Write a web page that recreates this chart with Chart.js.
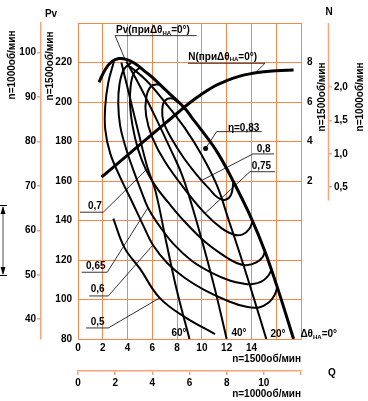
<!DOCTYPE html>
<html>
<head>
<meta charset="utf-8">
<title>Fan characteristic</title>
<script src="https://cdn.jsdelivr.net/npm/chart.js@4.4.1/dist/chart.umd.min.js"></script>
<style>
  html, body { margin: 0; padding: 0; background: #fff; }
</style>
</head>
<body>
<canvas id="fanChart" width="368" height="401"></canvas>
<script>
// pressure Pv(Q) at n=1500 rpm for guide vane angles
var qTheta0 = [1.7, 2.2, 2.7, 3.3, 3.9, 4.6, 5.4, 6.0, 7.0, 7.6, 8.6, 9.2, 10.0, 11.3, 12.6, 14.0, 15.1, 16.2, 17.4];
var pvTheta0 = [210, 216.5, 220.3, 222, 221.6, 219.5, 215.5, 212.5, 206.5, 203, 197, 192, 185.5, 174, 159, 141, 124.2, 104, 80];
var qTheta20 = [4.2, 5.5, 7.0, 8.6, 10.0, 11.2, 12.2, 13.2, 14.2, 15.2];
var pvTheta20 = [218, 211, 200, 187, 173, 158, 139.5, 120.5, 100.5, 80];
var qTheta40 = [3.9, 5.0, 6.2, 7.4, 8.4, 9.2, 10.0, 11.06, 12.0];
var pvTheta40 = [220.5, 208, 193, 177, 163, 147.5, 130, 105, 80];
var qTheta60 = [3.5, 4.2, 4.9, 5.6, 6.25, 7.16, 8.0, 9.0];
var pvTheta60 = [220, 202, 184, 167, 155, 128, 104, 80];

// efficiency contours
var qEta50 = [2.85, 3.77, 5.0, 6.59, 8.6, 11.06];
var pvEta50 = [141, 126, 115.6, 100.8, 91.2, 82.5];
var qEta60 = [2.9, 2.45, 2.2, 2.2, 2.6, 3.4, 4.4, 5.3, 6.05, 7.2, 8.6, 10.3, 12.2, 13.6, 14.6, 15.4, 15.85, 16.1];
var pvEta60 = [220.5, 210, 198, 186, 174, 162, 149, 137, 127.6, 118.5, 111, 104.5, 99, 96.3, 96, 98.5, 102, 106.5];
var qEta65 = [4.3, 3.7, 3.35, 3.25, 3.4, 3.85, 4.5, 5.1, 5.65, 6.6, 7.8, 9.2, 10.8, 12.3, 13.4, 14.1, 14.8, 15.35, 15.6];
var pvEta65 = [220, 216.5, 209, 199, 188, 177, 165, 155, 146.5, 137, 127.5, 119.5, 113.5, 109.5, 108, 107.8, 109, 112, 114.8];
var qEta70 = [5.0, 4.5, 4.25, 4.2, 4.4, 4.85, 5.5, 6.3, 7.3, 8.6, 10.2, 11.7, 12.8, 13.6, 14.4, 14.9, 15.1];
var pvEta70 = [217.5, 214.5, 208, 199, 188, 176, 165.5, 157, 149, 139.5, 129.5, 122.5, 118.5, 117.4, 118.8, 121.5, 124.5];
var qEta75 = [6.6, 5.9, 5.5, 5.5, 6.0, 7.0, 8.6, 10.25, 11.6, 12.6, 13.3, 13.8, 14.1];
var pvEta75 = [209, 208, 202, 193, 182, 170, 156, 143.6, 136, 132.8, 133, 135.5, 139.5];
var qEta80 = [8.1, 7.6, 7.0, 6.8, 6.9, 7.5, 8.5, 9.6, 10.6, 11.3, 11.9, 12.35, 12.55];
var pvEta80 = [199.7, 201.8, 200.5, 196, 190, 182, 172, 163, 156, 151.5, 150.5, 153, 159.5];
var qBest = [10.3];
var pvBest = [176.5];

// power N(Q) at n=1500 rpm, theta = 0
var qPower = [1.9, 3, 4, 5, 6, 7, 8, 9, 10, 11, 12, 13, 14, 15, 16, 17.4];
var nPower = [2.2, 2.78, 3.31, 3.84, 4.37, 4.9, 5.43, 5.95, 6.4, 6.8, 7.08, 7.3, 7.44, 7.53, 7.58, 7.62];

// ticks
var qGrid = [0, 2, 4, 6, 8, 10, 12, 14, 16, 18];
var qLabels1500 = [0, 2, 4, 6, 8, 10, 12, 14];
var qGrid1000 = [0, 2, 4, 6, 8, 10, 12];
var qLabels1000 = [0, 2, 4, 6, 8, 10];
var pvGrid = [80, 100, 120, 140, 160, 180, 200, 220, 240];
var pvLabels1500 = [80, 100, 120, 140, 160, 180, 200, 220];
var pvLabels1000 = [40, 50, 60, 70, 80, 90, 100];
var nLabels1500 = [2, 4, 6, 8];
var nLabels1000 = [0.5, 1, 1.5, 2];

var k = 1000 / 1500;
var orange = '#f3874c';
var peach = '#f6a47a';
var font = { family: '"Liberation Sans", Arial, sans-serif', size: 10, weight: 'bold' };
var cssFont = 'bold 10px "Liberation Sans", Arial, sans-serif';
var subFont = 'bold 6px "Liberation Sans", Arial, sans-serif';

function line(xs, ys, w, axis) {
  return {
    data: xs.map(function (x, i) { return { x: x, y: ys[i] }; }),
    showLine: true,
    borderColor: '#000',
    borderWidth: w,
    pointRadius: 0,
    tension: 0.4,
    yAxisID: axis || 'y'
  };
}

function setTicks(list) {
  return function (s) { s.ticks = list.map(function (v) { return { value: v }; }); };
}

// texts drawn with a subscript part: [text, isSub]
function rich(ctx, x, y, parts, align) {
  var w = 0;
  parts.forEach(function (p) { ctx.font = p[1] ? subFont : cssFont; w += ctx.measureText(p[0]).width; });
  var cx = align === 'center' ? x - w / 2 : (align === 'right' ? x - w : x);
  ctx.textAlign = 'left';
  ctx.textBaseline = 'middle';
  parts.forEach(function (p) {
    ctx.font = p[1] ? subFont : cssFont;
    ctx.fillText(p[0], cx, p[1] ? y + 3 : y);
    cx += ctx.measureText(p[0]).width;
  });
}

var callouts = [
  { t: [['Pv(приΔθ'], ['НА', 1], ['=0°)']], tx: 3.07, ty: 236.5, u0: 2.99, u1: 9.58, uy: 233.6, end: 0, to: [3.8, 221.6] },
  { t: [['N(приΔθ'], ['НА', 1], ['=0°)']], tx: 8.9, ty: 222.9, u0: 8.88, u1: 15.09, uy: 219.6, end: 1, to: [14.3, 7.47], axis: 'yN' },
  { t: [['η=0,83']], tx: 12.1, ty: 186.8, u0: 11.19, u1: 14.83, uy: 185, end: 0, to: [10.3, 176.5] },
  { t: [['0,8']], tx: 14.42, ty: 176.2, u0: 14.12, u1: 15.82, uy: 173.7, end: 0, to: [9.98, 160.3] },
  { t: [['0,75']], tx: 14.02, ty: 167.6, u0: 13.88, u1: 15.9, uy: 164.7, end: 0, to: [10.25, 143.6] },
  { t: [['0,7']], tx: 0.81, ty: 147.3, u0: 0.16, u1: 2.04, uy: 144.2, end: 1, to: [5.49, 165.5] },
  { t: [['0,65']], tx: 0.65, ty: 116.6, u0: 0.3, u1: 2.36, uy: 113.8, end: 1, to: [5.65, 146.5] },
  { t: [['0,6']], tx: 1.03, ty: 105.3, u0: 0.91, u1: 2.45, uy: 101.8, end: 1, to: [6.05, 127.6] },
  { t: [['0,5']], tx: 1.03, ty: 88.3, u0: 0.65, u1: 2.45, uy: 85.6, end: 1, to: [6.59, 100.8] }
];

var decor = {
  id: 'decor',
  afterDraw: function (chart) {
    var ctx = chart.ctx;
    var sx = chart.scales.x, sy = chart.scales.y, sn2 = chart.scales.yN2;
    function X(q) { return sx.getPixelForValue(q); }
    function Y(p) { return sy.getPixelForValue(p); }
    ctx.save();
    ctx.fillStyle = '#000';

    // n=1000 power axis line (upper part only)
    ctx.strokeStyle = peach;
    ctx.lineWidth = 1.5;
    ctx.beginPath();
    ctx.moveTo(sn2.left + 0.5, chart.chartArea.top);
    ctx.lineTo(sn2.left + 0.5, sn2.getPixelForValue(0.3));
    ctx.stroke();

    // callouts
    ctx.strokeStyle = '#000';
    ctx.lineWidth = 0.8;
    callouts.forEach(function (c) {
      var uy = Y(c.uy);
      var ex = c.end ? X(c.u1) : X(c.u0);
      var tyPix = c.axis ? chart.scales[c.axis].getPixelForValue(c.to[1]) : Y(c.to[1]);
      ctx.beginPath();
      ctx.moveTo(X(c.u0), uy);
      ctx.lineTo(X(c.u1), uy);
      ctx.moveTo(ex, uy);
      ctx.lineTo(X(c.to[0]), tyPix);
      ctx.stroke();
      rich(ctx, X(c.tx), Y(c.ty), c.t, 'left');
    });

    // guide vane angle labels
    rich(ctx, X(8.15), Y(82.9), [['60°']], 'center');
    rich(ctx, X(13.0), Y(82.9), [['40°']], 'center');
    rich(ctx, X(16.14), Y(82.6), [['20°']], 'center');
    rich(ctx, X(17.95), Y(82.6), [['Δθ'], ['НА', 1], ['=0°']], 'left');

    // axis names
    rich(ctx, 51, 14, [['Pv']], 'center');
    rich(ctx, 329, 12, [['N']], 'center');
    rich(ctx, 332, 373, [['Q']], 'center');
    rich(ctx, chart.chartArea.right, 359, [['n=1500об/мин']], 'right');
    rich(ctx, chart.chartArea.right, 394, [['n=1000об/мин']], 'right');
    [[12, 65], [50, 66], [322, 97], [360, 97]].forEach(function (p, i) {
      ctx.save();
      ctx.translate(p[0], p[1]);
      ctx.rotate(-Math.PI / 2);
      rich(ctx, 0, 0, [[i === 1 || i === 2 ? 'n=1500об/мин' : 'n=1000об/мин']], 'center');
      ctx.restore();
    });

    // dimension arrow on the far left
    ctx.strokeStyle = '#888';
    ctx.lineWidth = 1.5;
    ctx.beginPath();
    ctx.moveTo(3, 207);
    ctx.lineTo(3, 274);
    ctx.stroke();
    ctx.strokeStyle = '#000';
    ctx.lineWidth = 1;
    ctx.beginPath();
    ctx.moveTo(0, 205.5); ctx.lineTo(7, 205.5);
    ctx.moveTo(0, 275.5); ctx.lineTo(7, 275.5);
    ctx.stroke();
    ctx.beginPath();
    ctx.moveTo(3, 206); ctx.lineTo(0.5, 214); ctx.lineTo(5.5, 214); ctx.closePath();
    ctx.moveTo(3, 275); ctx.lineTo(0.5, 267); ctx.lineTo(5.5, 267); ctx.closePath();
    ctx.fill();
    ctx.restore();
  }
};

new Chart(document.getElementById('fanChart'), {
  type: 'scatter',
  data: {
    datasets: [
      line(qTheta0, pvTheta0, 3),
      line(qTheta20, pvTheta20, 2),
      line(qTheta40, pvTheta40, 2),
      line(qTheta60, pvTheta60, 2),
      line(qEta50, pvEta50, 2),
      line(qEta60, pvEta60, 2),
      line(qEta65, pvEta65, 2),
      line(qEta70, pvEta70, 2),
      line(qEta75, pvEta75, 2),
      line(qEta80, pvEta80, 2),
      line(qPower, nPower, 3, 'yN'),
      {
        data: [{ x: qBest[0], y: pvBest[0] }],
        pointRadius: 2.5,
        pointBackgroundColor: '#000',
        pointBorderWidth: 0,
        yAxisID: 'y'
      }
    ]
  },
  options: {
    responsive: false,
    devicePixelRatio: 1,
    animation: false,
    layout: { padding: { top: 23, left: 0, right: 0, bottom: 0 } },
    plugins: { legend: { display: false }, tooltip: { enabled: false } },
    scales: {
      x: {
        type: 'linear', position: 'bottom', min: 0, max: 18,
        afterBuildTicks: setTicks(qGrid),
        afterFit: function (s) { s.height = 32; },
        grid: { color: orange, drawTicks: false },
        border: { color: orange },
        ticks: {
          font: font, color: '#000', padding: 3, maxRotation: 0, autoSkip: false,
          callback: function (v) { return qLabels1500.indexOf(v) >= 0 ? String(v) : ''; }
        }
      },
      x2: {
        type: 'linear', position: 'bottom', min: 0, max: 18 * k,
        afterBuildTicks: setTicks(qGrid1000),
        afterFit: function (s) { s.height = 30; },
        grid: { drawOnChartArea: false, tickLength: 4, color: peach, lineWidth: 1.5 },
        border: { color: peach, width: 1.5 },
        ticks: {
          font: font, color: '#000', padding: 2, maxRotation: 0, autoSkip: false,
          callback: function (v) { return qLabels1000.indexOf(v) >= 0 ? String(v) : ''; }
        }
      },
      y: {
        type: 'linear', position: 'left', min: 80, max: 240,
        afterBuildTicks: setTicks(pvGrid),
        afterFit: function (s) { s.width = 37; },
        grid: { color: orange, drawTicks: false },
        border: { color: orange },
        ticks: {
          font: font, color: '#000', padding: 6,
          callback: function (v) { return pvLabels1500.indexOf(v) >= 0 ? String(v) : ''; }
        }
      },
      y1000: {
        type: 'linear', position: 'left', min: 80 * k * k, max: 240 * k * k,
        afterBuildTicks: setTicks(pvLabels1000),
        afterFit: function (s) { s.width = 41; },
        grid: { drawOnChartArea: false, tickLength: 4, color: peach, lineWidth: 1.5 },
        border: { color: peach, width: 1.5 },
        ticks: { font: font, color: '#000', padding: 1 }
      },
      yN: {
        type: 'linear', position: 'right', min: -6, max: 10,
        afterBuildTicks: setTicks(nLabels1500),
        afterFit: function (s) { s.width = 27; },
        grid: { drawOnChartArea: false, drawTicks: false },
        border: { color: orange },
        ticks: { font: font, color: '#000', padding: 6 }
      },
      yN2: {
        type: 'linear', position: 'right', min: -6 * k * k * k, max: 10 * k * k * k,
        afterBuildTicks: setTicks(nLabels1000),
        afterFit: function (s) { s.width = 40; },
        grid: { drawOnChartArea: false, tickLength: 4, color: peach, lineWidth: 1.5 },
        border: { display: false },
        ticks: {
          font: font, color: '#000', padding: 2,
          callback: function (v) { return v.toFixed(1).replace('.', ','); }
        }
      }
    }
  },
  plugins: [decor]
});
</script>
</body>
</html>
